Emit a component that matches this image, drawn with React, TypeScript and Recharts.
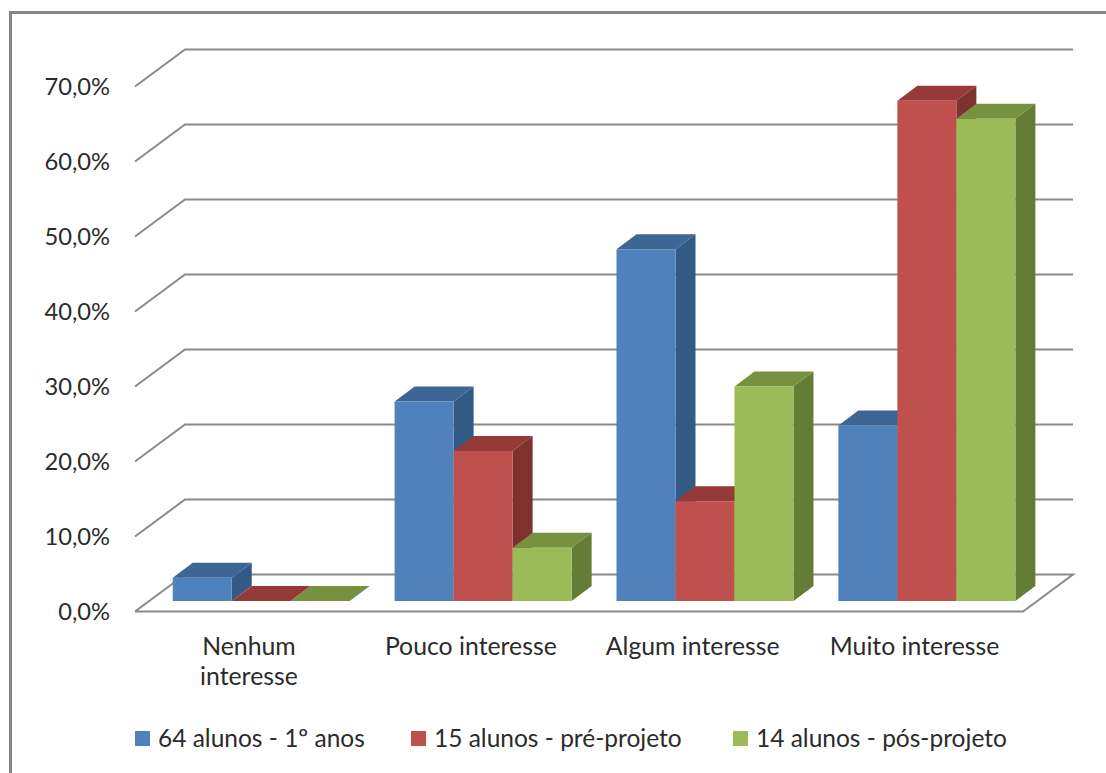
import React from "react";
import { BarChart, Bar, XAxis, YAxis, CartesianGrid, Legend } from "recharts";

const categories = ["Nenhum interesse", "Pouco interesse", "Algum interesse", "Muito interesse"];
const alunos1 = [3.1, 26.6, 46.9, 23.4];
const preProjeto = [0, 20.0, 13.3, 66.7];
const posProjeto = [0, 7.1, 28.6, 64.3];
const yTicks = [0, 10, 20, 30, 40, 50, 60, 70];
const seriesNames = ["64 alunos - 1º anos", "15 alunos - pré-projeto", "14 alunos - pós-projeto"];
const legendLefts = [135, 411, 733];

const data = categories.map((name, i) => ({
  name,
  a: alunos1[i],
  b: preProjeto[i],
  c: posProjeto[i],
}));

const FONT = "Lato, Carlito, sans-serif";
const TEXT = "#2b2b2b";
const GRID = "#8a8a8a";
const DX = 20;
const DY = 15;

const Box = (colors: { front: string; top: string; side: string }) => (props: any) => {
  const { x, y, width, height } = props;
  const r = x + width;
  const b = y + height;
  return (
    <g>
      <polygon points={`${x},${y} ${x + DX},${y - DY} ${r + DX},${y - DY} ${r},${y}`} fill={colors.top} />
      <polygon points={`${r},${y} ${r + DX},${y - DY} ${r + DX},${b - DY} ${r},${b}`} fill={colors.side} />
      <rect x={x} y={y} width={width} height={height} fill={colors.front} />
    </g>
  );
};

const GridLine = (props: any) => {
  const y = props.y1;
  const isFloor = Math.abs(y - 601) < 1;
  const backY = y - 26.5;
  const frontY = y + 10.5;
  const common = { stroke: GRID, strokeWidth: 2, fill: "none" };
  return (
    <g key={props.key}>
      {isFloor ? (
        <polyline points={`135,${frontY} 185,${backY} 1073,${backY} 1023,${frontY} 135,${frontY}`} {...common} />
      ) : (
        <polyline points={`135,${frontY} 185,${backY} 1073,${backY}`} {...common} />
      )}
    </g>
  );
};

const YTick = (props: any) => (
  <text x={110} y={props.y + 13} textAnchor="end" dominantBaseline="middle" fontFamily={FONT} fontSize={23.7} fill={TEXT}>
    {`${props.payload.value.toFixed(1).replace(".", ",")}%`}
  </text>
);

const XTick = (props: any) => {
  const label: string = props.payload.value;
  const lines = label === "Nenhum interesse" ? label.split(" ") : [label];
  return (
    <text textAnchor="middle" fontFamily={FONT} fontSize={24.8} fill={TEXT}>
      {lines.map((l, i) => (
        <tspan key={l} x={props.x - 13} y={655 + i * 30}>
          {l}
        </tspan>
      ))}
    </text>
  );
};

const LegendContent = (props: any) => {
  const payload = props.payload || [];
  return (
    <div style={{ position: "relative", width: 1106, height: 52 }}>
      {seriesNames.map((name, i) => {
        const p = payload.find((e: any) => e.value === name);
        if (!p) return null;
        return (
          <div key={name} style={{ position: "absolute", left: legendLefts[i], top: 0, display: "flex", alignItems: "center", fontFamily: FONT, fontSize: 24.5, color: TEXT, lineHeight: "34px", whiteSpace: "nowrap" }}>
            <span style={{ display: "inline-block", width: 15, height: 15, background: p.color, marginRight: 8 }} />
            {p.value}
          </div>
        );
      })}
    </div>
  );
};

export default function App() {
  return (
    <div style={{ position: "absolute", left: 0, top: 0, width: 1106, height: 773, background: "#fff", overflow: "hidden" }}>
      <div style={{ position: "absolute", left: 9, top: 11, width: 1200, height: 900, borderLeft: "3px solid #868686", borderTop: "3px solid #868686" }} />
      <BarChart
        width={1106}
        height={773}
        data={data}
        margin={{ top: 76, right: 67.5, bottom: 0, left: 0 }}
        barCategoryGap="9.8%"
        barGap={0}
        style={{ position: "absolute", left: 0, top: 0 }}
      >
        <CartesianGrid vertical={false} horizontal={GridLine as any} />
        <XAxis dataKey="name" height={120} axisLine={false} tickLine={false} interval={0} tick={XTick as any} />
        <YAxis width={151} domain={[0, 70]} ticks={yTicks} axisLine={false} tickLine={false} tick={YTick as any} />
        <Legend verticalAlign="bottom" height={52} content={LegendContent as any} wrapperStyle={{ left: 0, width: 1106 }} />
        <Bar dataKey="a" name={seriesNames[0]} fill="#4F81BD" isAnimationActive={false} shape={Box({ front: "#4F81BD", top: "#3D6694", side: "#335A85" }) as any} />
        <Bar dataKey="b" name={seriesNames[1]} fill="#C0504D" isAnimationActive={false} shape={Box({ front: "#C0504D", top: "#953A38", side: "#7F312F" }) as any} />
        <Bar dataKey="c" name={seriesNames[2]} fill="#9BBB59" isAnimationActive={false} shape={Box({ front: "#9BBB59", top: "#77923F", side: "#647D36" }) as any} />
      </BarChart>
    </div>
  );
}
